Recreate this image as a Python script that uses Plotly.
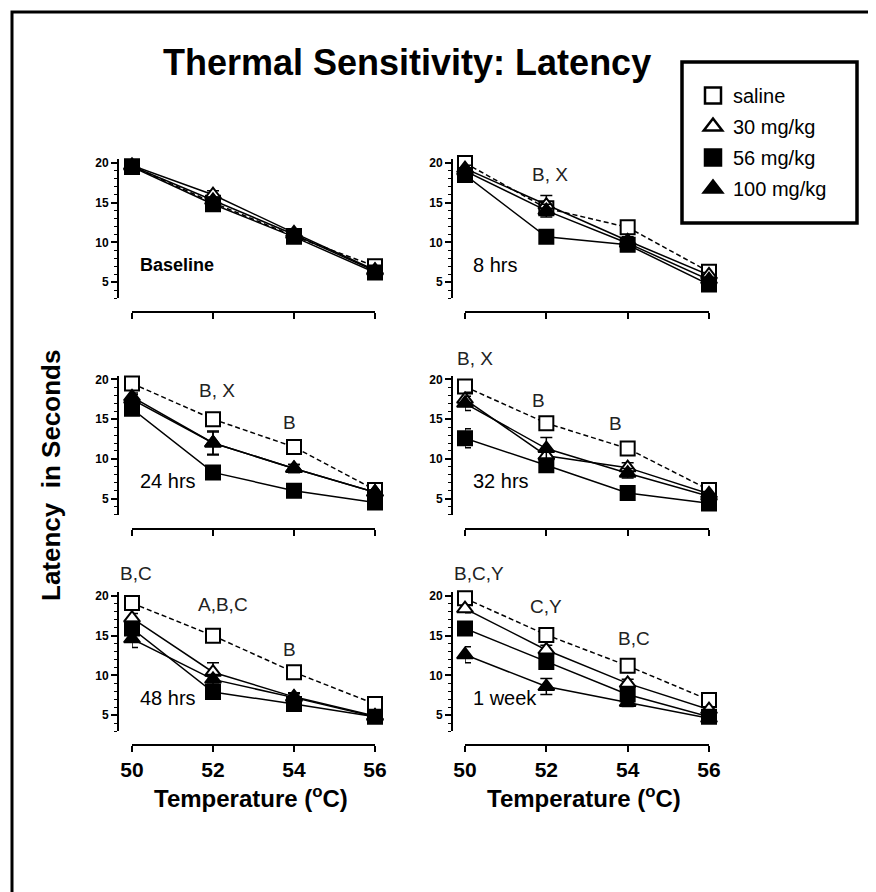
import plotly.graph_objects as go

# ---------------- data ----------------
temps = [50, 52, 54, 56]
tick_labels = ["50", "52", "54", "56"]
panels = ["Baseline", "8 hrs", "24 hrs", "32 hrs", "48 hrs", "1 week"]
series_names = ["saline", "30 mg/kg", "56 mg/kg", "100 mg/kg"]

# mean latency (s) per panel, in panel order
saline = [
    [19.6, 15.0, 10.8, 7.0],
    [20.0, 14.3, 11.9, 6.3],
    [19.5, 15.0, 11.5, 6.1],
    [19.1, 14.5, 11.3, 6.1],
    [19.1, 15.0, 10.4, 6.4],
    [19.7, 15.1, 11.2, 6.9],
]
mg30 = [
    [19.7, 16.0, 11.2, 6.5],
    [19.3, 14.7, 10.2, 5.9],
    [17.5, 12.0, 8.8, 5.8],
    [17.5, 10.4, 8.9, 5.6],
    [17.2, 10.4, 7.3, 4.9],
    [18.4, 13.2, 9.0, 5.7],
]
mg56 = [
    [19.5, 14.8, 10.7, 6.2],
    [18.5, 10.7, 9.7, 4.7],
    [16.3, 8.3, 6.0, 4.5],
    [12.6, 9.2, 5.7, 4.4],
    [15.9, 7.9, 6.4, 4.8],
    [15.9, 11.7, 7.6, 4.8],
]
mg100 = [
    [19.6, 15.3, 11.0, 6.4],
    [19.0, 14.0, 9.9, 5.3],
    [17.8, 12.0, 8.8, 5.8],
    [17.0, 11.3, 8.2, 5.3],
    [14.6, 9.5, 7.2, 4.8],
    [12.6, 8.6, 6.6, 4.6],
]

# standard errors
saline_sem = [
    [0.3, 0.4, 0.4, 0.3],
    [0.3, 0.5, 0.5, 0.3],
    [0.3, 0.5, 0.5, 0.3],
    [0.4, 0.5, 0.5, 0.3],
    [0.4, 0.5, 0.5, 0.3],
    [0.3, 0.5, 0.5, 0.3],
]
mg30_sem = [
    [0.3, 0.5, 0.4, 0.3],
    [0.4, 1.2, 0.5, 0.3],
    [0.6, 1.5, 0.5, 0.3],
    [0.9, 0.6, 0.6, 0.3],
    [0.6, 1.2, 0.5, 0.3],
    [0.5, 0.6, 0.5, 0.3],
]
mg56_sem = [
    [0.3, 0.4, 0.4, 0.3],
    [0.4, 0.5, 0.5, 0.3],
    [0.5, 0.5, 0.4, 0.3],
    [1.2, 0.5, 0.4, 0.3],
    [0.7, 0.5, 0.4, 0.3],
    [0.7, 0.6, 0.5, 0.3],
]
mg100_sem = [
    [0.3, 0.4, 0.4, 0.3],
    [0.4, 0.8, 0.5, 0.3],
    [0.5, 1.4, 0.5, 0.3],
    [0.9, 1.4, 0.6, 0.3],
    [1.1, 0.6, 0.5, 0.3],
    [1.0, 1.0, 0.5, 0.3],
]

# significance letters: (panel index, temperature, latency level, text)
sig_labels = [
    (1, 52.1, 18.5, "B, X"),
    (2, 52.1, 18.6, "B, X"),
    (2, 53.9, 14.6, "B"),
    (3, 50.25, 22.6, "B, X"),
    (3, 51.8, 17.3, "B"),
    (3, 53.7, 14.5, "B"),
    (4, 50.1, 22.8, "B,C"),
    (4, 52.25, 18.9, "A,B,C"),
    (4, 53.9, 13.3, "B"),
    (5, 50.35, 22.8, "B,C,Y"),
    (5, 52.0, 18.7, "C,Y"),
    (5, 54.15, 14.6, "B,C"),
]

# ---------------- styling ----------------
# the page body has an 8px margin, so the figure starts at (8, 8) in the window
OFF = 8
W, H = 876 - OFF, 892 - OFF


def fx(px):
    return (px - OFF) / W


def fy(py):
    return 1 - (py - OFF) / H


FONT = "Arial, Liberation Sans, sans-serif"
series_means = [saline, mg30, mg56, mg100]
series_sems = [saline_sem, mg30_sem, mg56_sem, mg100_sem]
styles = [
    dict(symbol="square", size=14, fill="white", dash="5px,3px"),
    dict(symbol="triangle-up", size=14, fill="white", dash="solid"),
    dict(symbol="square", size=14, fill="black", dash="solid"),
    dict(symbol="triangle-up", size=14, fill="black", dash="solid"),
]

col_px = [dict(yax=118, x0=132, x1=375), dict(yax=452, x0=465, x1=709)]
ROW_STEP = 216.5
Y_TOP, Y_BOT, X_LINE = 159, 298, 312
Y_RANGE = [3, 20.5]

fig = go.Figure()
layout = dict(
    width=W, height=H, margin=dict(l=0, r=0, t=0, b=0, pad=0, autoexpand=False),
    autosize=False,
    paper_bgcolor="white", plot_bgcolor="rgba(0,0,0,0)",
    font=dict(family=FONT, color="black"),
    showlegend=True,
)
annotations = []

for i, pname in enumerate(panels):
    r, c = divmod(i, 2)
    cp = col_px[c]
    ytop = Y_TOP + ROW_STEP * r
    ybot = Y_BOT + ROW_STEP * r
    xline = X_LINE + ROW_STEP * r
    xa = "xaxis" if i == 0 else f"xaxis{i+1}"
    ya = "yaxis" if i == 0 else f"yaxis{i+1}"
    xref = "x" if i == 0 else f"x{i+1}"
    yref = "y" if i == 0 else f"y{i+1}"
    bottom = r == 2
    layout[xa] = dict(
        domain=[fx(cp["x0"]), fx(cp["x1"])], range=[50, 56],
        anchor="free", position=fy(xline), automargin=False,
        tickmode="array", tickvals=temps, ticktext=tick_labels,
        showticklabels=bottom, ticks="outside", ticklen=6, tickwidth=2,
        tickcolor="black", showline=True, linewidth=2, linecolor="black",
        showgrid=False, zeroline=False,
        tickfont=dict(size=21, family=FONT, color="black", weight="bold"),
    )
    layout[ya] = dict(
        domain=[fy(ybot), fy(ytop)], range=Y_RANGE,
        anchor="free", position=fx(cp["yax"]), automargin=False,
        tick0=0, dtick=5, ticks="outside", ticklen=6, tickwidth=1.5,
        tickcolor="black", showline=True, linewidth=2, linecolor="black",
        showgrid=False, zeroline=False,
        minor=dict(dtick=1, tick0=0, ticks="outside", ticklen=3, tickwidth=1.2, tickcolor="black"),
        tickfont=dict(size=12, family=FONT, color="black", weight="bold"),
    )
    for j, name in enumerate(series_names):
        st = styles[j]
        fig.add_trace(go.Scatter(
            x=temps, y=series_means[j][i], name=name,
            mode="lines+markers", xaxis=xref, yaxis=yref,
            cliponaxis=False, showlegend=False,
            line=dict(color="black", width=1.5, dash=st["dash"]),
            marker=dict(symbol=st["symbol"], size=st["size"], color=st["fill"],
                        line=dict(color="black", width=2)),
            error_y=dict(type="data", array=series_sems[j][i], color="black",
                         thickness=1.5, width=6),
            hoverinfo="skip",
        ))
    annotations.append(dict(
        x=50.15, y=7.2, xref=xref, yref=yref, text=pname, showarrow=False,
        xanchor="left", yanchor="middle",
        font=dict(size=18 if i == 0 else 20, family=FONT, color="black",
                  weight="bold" if i == 0 else "normal"),
    ))

for (pi, tx, ty, txt) in sig_labels:
    xref = "x" if pi == 0 else f"x{pi+1}"
    yref = "y" if pi == 0 else f"y{pi+1}"
    # place vertically in the axis' domain frame so labels above the range stay visible
    ydom = (ty - Y_RANGE[0]) / (Y_RANGE[1] - Y_RANGE[0])
    annotations.append(dict(
        x=tx, y=ydom, xref=xref, yref=f"{yref} domain", text=txt, showarrow=False,
        xanchor="center", yanchor="middle",
        font=dict(size=19, family=FONT, color="#222222"),
    ))

# legend entries (marker only)
for j, name in enumerate(series_names):
    st = styles[j]
    fig.add_trace(go.Scatter(
        x=[None], y=[None], name=name, mode="markers", xaxis="x", yaxis="y",
        legendgroup=name, showlegend=True,
        marker=dict(symbol=st["symbol"], size=16, color=st["fill"],
                    line=dict(color="black", width=2.5)),
    ))

layout["legend"] = dict(
    x=fx(693), y=fy(76), xanchor="left", yanchor="top",
    bgcolor="rgba(0,0,0,0)", borderwidth=0, tracegroupgap=2,
    font=dict(size=20, family=FONT, color="black"),
    itemsizing="trace",
)

# titles
annotations.append(dict(
    x=fx(407), y=fy(62), xref="paper", yref="paper",
    text="<b>Thermal Sensitivity: Latency</b>", showarrow=False,
    xanchor="center", yanchor="middle",
    font=dict(size=36, family=FONT, color="black"),
))
annotations.append(dict(
    x=fx(51), y=fy(476), xref="paper", yref="paper",
    text="<b>Latency  in Seconds</b>", showarrow=False, textangle=-90,
    xanchor="center", yanchor="middle",
    font=dict(size=26, family=FONT, color="black"),
))
for cp in col_px:
    annotations.append(dict(
        x=fx((cp["x0"] + cp["x1"]) / 2 - 3), y=fy(797), xref="paper", yref="paper",
        text="<b>Temperature (<sup>o</sup>C)</b>", showarrow=False,
        xanchor="center", yanchor="middle",
        font=dict(size=24, family=FONT, color="black"),
    ))

layout["annotations"] = annotations
layout["shapes"] = [
    dict(type="rect", xref="paper", yref="paper",
         x0=fx(12), x1=1.03, y0=-0.03, y1=fy(12),
         line=dict(color="black", width=3), fillcolor="rgba(0,0,0,0)"),
    dict(type="rect", xref="paper", yref="paper",
         x0=fx(682), x1=fx(857), y0=fy(223), y1=fy(62),
         line=dict(color="black", width=3.5), fillcolor="rgba(0,0,0,0)"),
]

fig.update_layout(**layout)
fig.write_html("out.html")
